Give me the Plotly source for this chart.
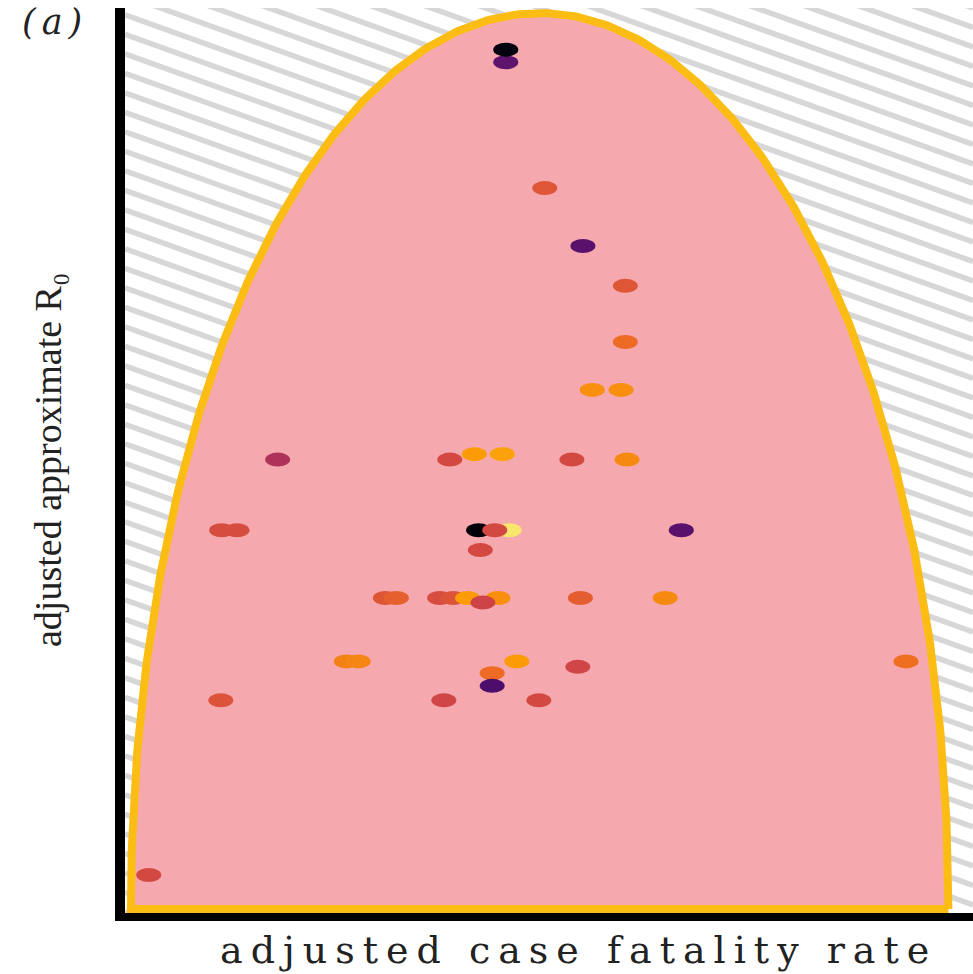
import numpy as np
import plotly.graph_objects as go
import plotly.express as px
from plotly.colors import sample_colorscale

# ---------------- data ----------------
cfr = [0.449, 0.449, 0.495, 0.540, 0.590, 0.590, 0.551, 0.585,
       0.180, 0.383, 0.412, 0.445, 0.527, 0.592,
       0.114, 0.132, 0.417, 0.453, 0.436, 0.419, 0.656,
       0.307, 0.320, 0.371, 0.387, 0.404, 0.440, 0.537, 0.637, 0.422,
       0.261, 0.275, 0.462, 0.433, 0.433, 0.534, 0.921,
       0.113, 0.376, 0.488, 0.028]
r0 = [0.940, 0.954, 0.801, 0.737, 0.693, 0.631, 0.578, 0.578,
      0.501, 0.501, 0.507, 0.507, 0.501, 0.501,
      0.423, 0.423, 0.423, 0.423, 0.423, 0.401, 0.423,
      0.348, 0.348, 0.348, 0.348, 0.348, 0.348, 0.348, 0.348, 0.343,
      0.278, 0.278, 0.278, 0.265, 0.251, 0.272, 0.278,
      0.235, 0.235, 0.235, 0.042]
colour_value = [0.27, 0.02, 0.61, 0.26, 0.61, 0.67, 0.75, 0.75,
                0.47, 0.57, 0.78, 0.79, 0.57, 0.74,
                0.58, 0.58, 0.01, 0.94, 0.57, 0.57, 0.26,
                0.61, 0.64, 0.58, 0.60, 0.78, 0.75, 0.63, 0.74, 0.55,
                0.72, 0.73, 0.78, 0.67, 0.23, 0.56, 0.68,
                0.60, 0.56, 0.57, 0.57]

# feasible-region envelope (half ellipse)
env_centre = 0.489
env_halfwidth = 0.482
env_base = 0.0044
env_height = 0.990

# ---------------- layout constants ----------------
W, H = 973, 974
ML, MR, MT, MB = 125, 0, 8, 61
PW, PH = W - ML - MR, H - MT - MB

fig = go.Figure()

# hatch background (decorative diagonal lines)
slope = 0.36          # pixel drop per pixel to the right
spacing = 19.5        # vertical pixel spacing
hx, hy = [], []
c = -slope * PW - spacing
while c < PH + spacing:
    hx += [0.0, 1.0, None]
    hy += [1 - c / PH, 1 - (c + slope * PW) / PH, None]
    c += spacing
fig.add_trace(go.Scatter(x=hx, y=hy, mode="lines",
                         line=dict(color="#d7d7d7", width=5.5),
                         hoverinfo="skip", showlegend=False))

# envelope
t = np.linspace(0, np.pi, 400)
ex = list(env_centre + env_halfwidth * np.cos(t)) + [env_centre + env_halfwidth]
ey = list(env_base + env_height * np.sin(t)) + [env_base]
fig.add_trace(go.Scatter(x=ex, y=ey, mode="lines", fill="toself",
                         fillcolor="#f5a9ae",
                         line=dict(color="#fbbd14", width=8),
                         hoverinfo="skip", showlegend=False))

# points as ellipses anchored at data coordinates
colours = sample_colorscale(px.colors.sequential.Inferno, colour_value)
for xv, yv, col in zip(cfr, r0, colours):
    fig.add_shape(type="circle", xref="x", yref="y",
                  xsizemode="pixel", ysizemode="pixel",
                  xanchor=xv, yanchor=yv,
                  x0=-12.5, x1=12.5, y0=-7, y1=7,
                  fillcolor=col, line=dict(width=0), layer="above")

fig.update_layout(
    width=W, height=H,
    margin=dict(l=ML, r=MR, t=MT, b=MB, pad=0),
    paper_bgcolor="white", plot_bgcolor="white",
    showlegend=False,
    xaxis=dict(range=[0, 1], showgrid=False, zeroline=False, showticklabels=False,
               ticks="", showline=True, linecolor="black", linewidth=8),
    yaxis=dict(range=[0, 1], showgrid=False, zeroline=False, showticklabels=False,
               ticks="", showline=True, linecolor="black", linewidth=10),
    annotations=[
        dict(text='<span style="letter-spacing:8px">adjusted case fatality rate</span>',
             xref="paper", yref="paper", x=(578 - ML) / PW, y=(H - MB - 950) / PH,
             xanchor="center", yanchor="middle", showarrow=False,
             font=dict(family="DejaVu Serif", size=38, color="#222222")),
        dict(text="adjusted approximate R₀",
             xref="paper", yref="paper", x=(48 - ML) / PW, y=(H - MB - 460) / PH,
             xanchor="center", yanchor="middle", textangle=-90, showarrow=False,
             font=dict(family="Liberation Serif", size=38, color="#222222")),
        dict(text='<span style="letter-spacing:6px">(a)</span>',
             xref="paper", yref="paper", x=(55 - ML) / PW, y=(H - MB - 22) / PH,
             xanchor="center", yanchor="middle", showarrow=False,
             font=dict(family="DejaVu Serif", size=35, color="#222222", style="italic")),
    ],
)

fig.write_html("out.html")
